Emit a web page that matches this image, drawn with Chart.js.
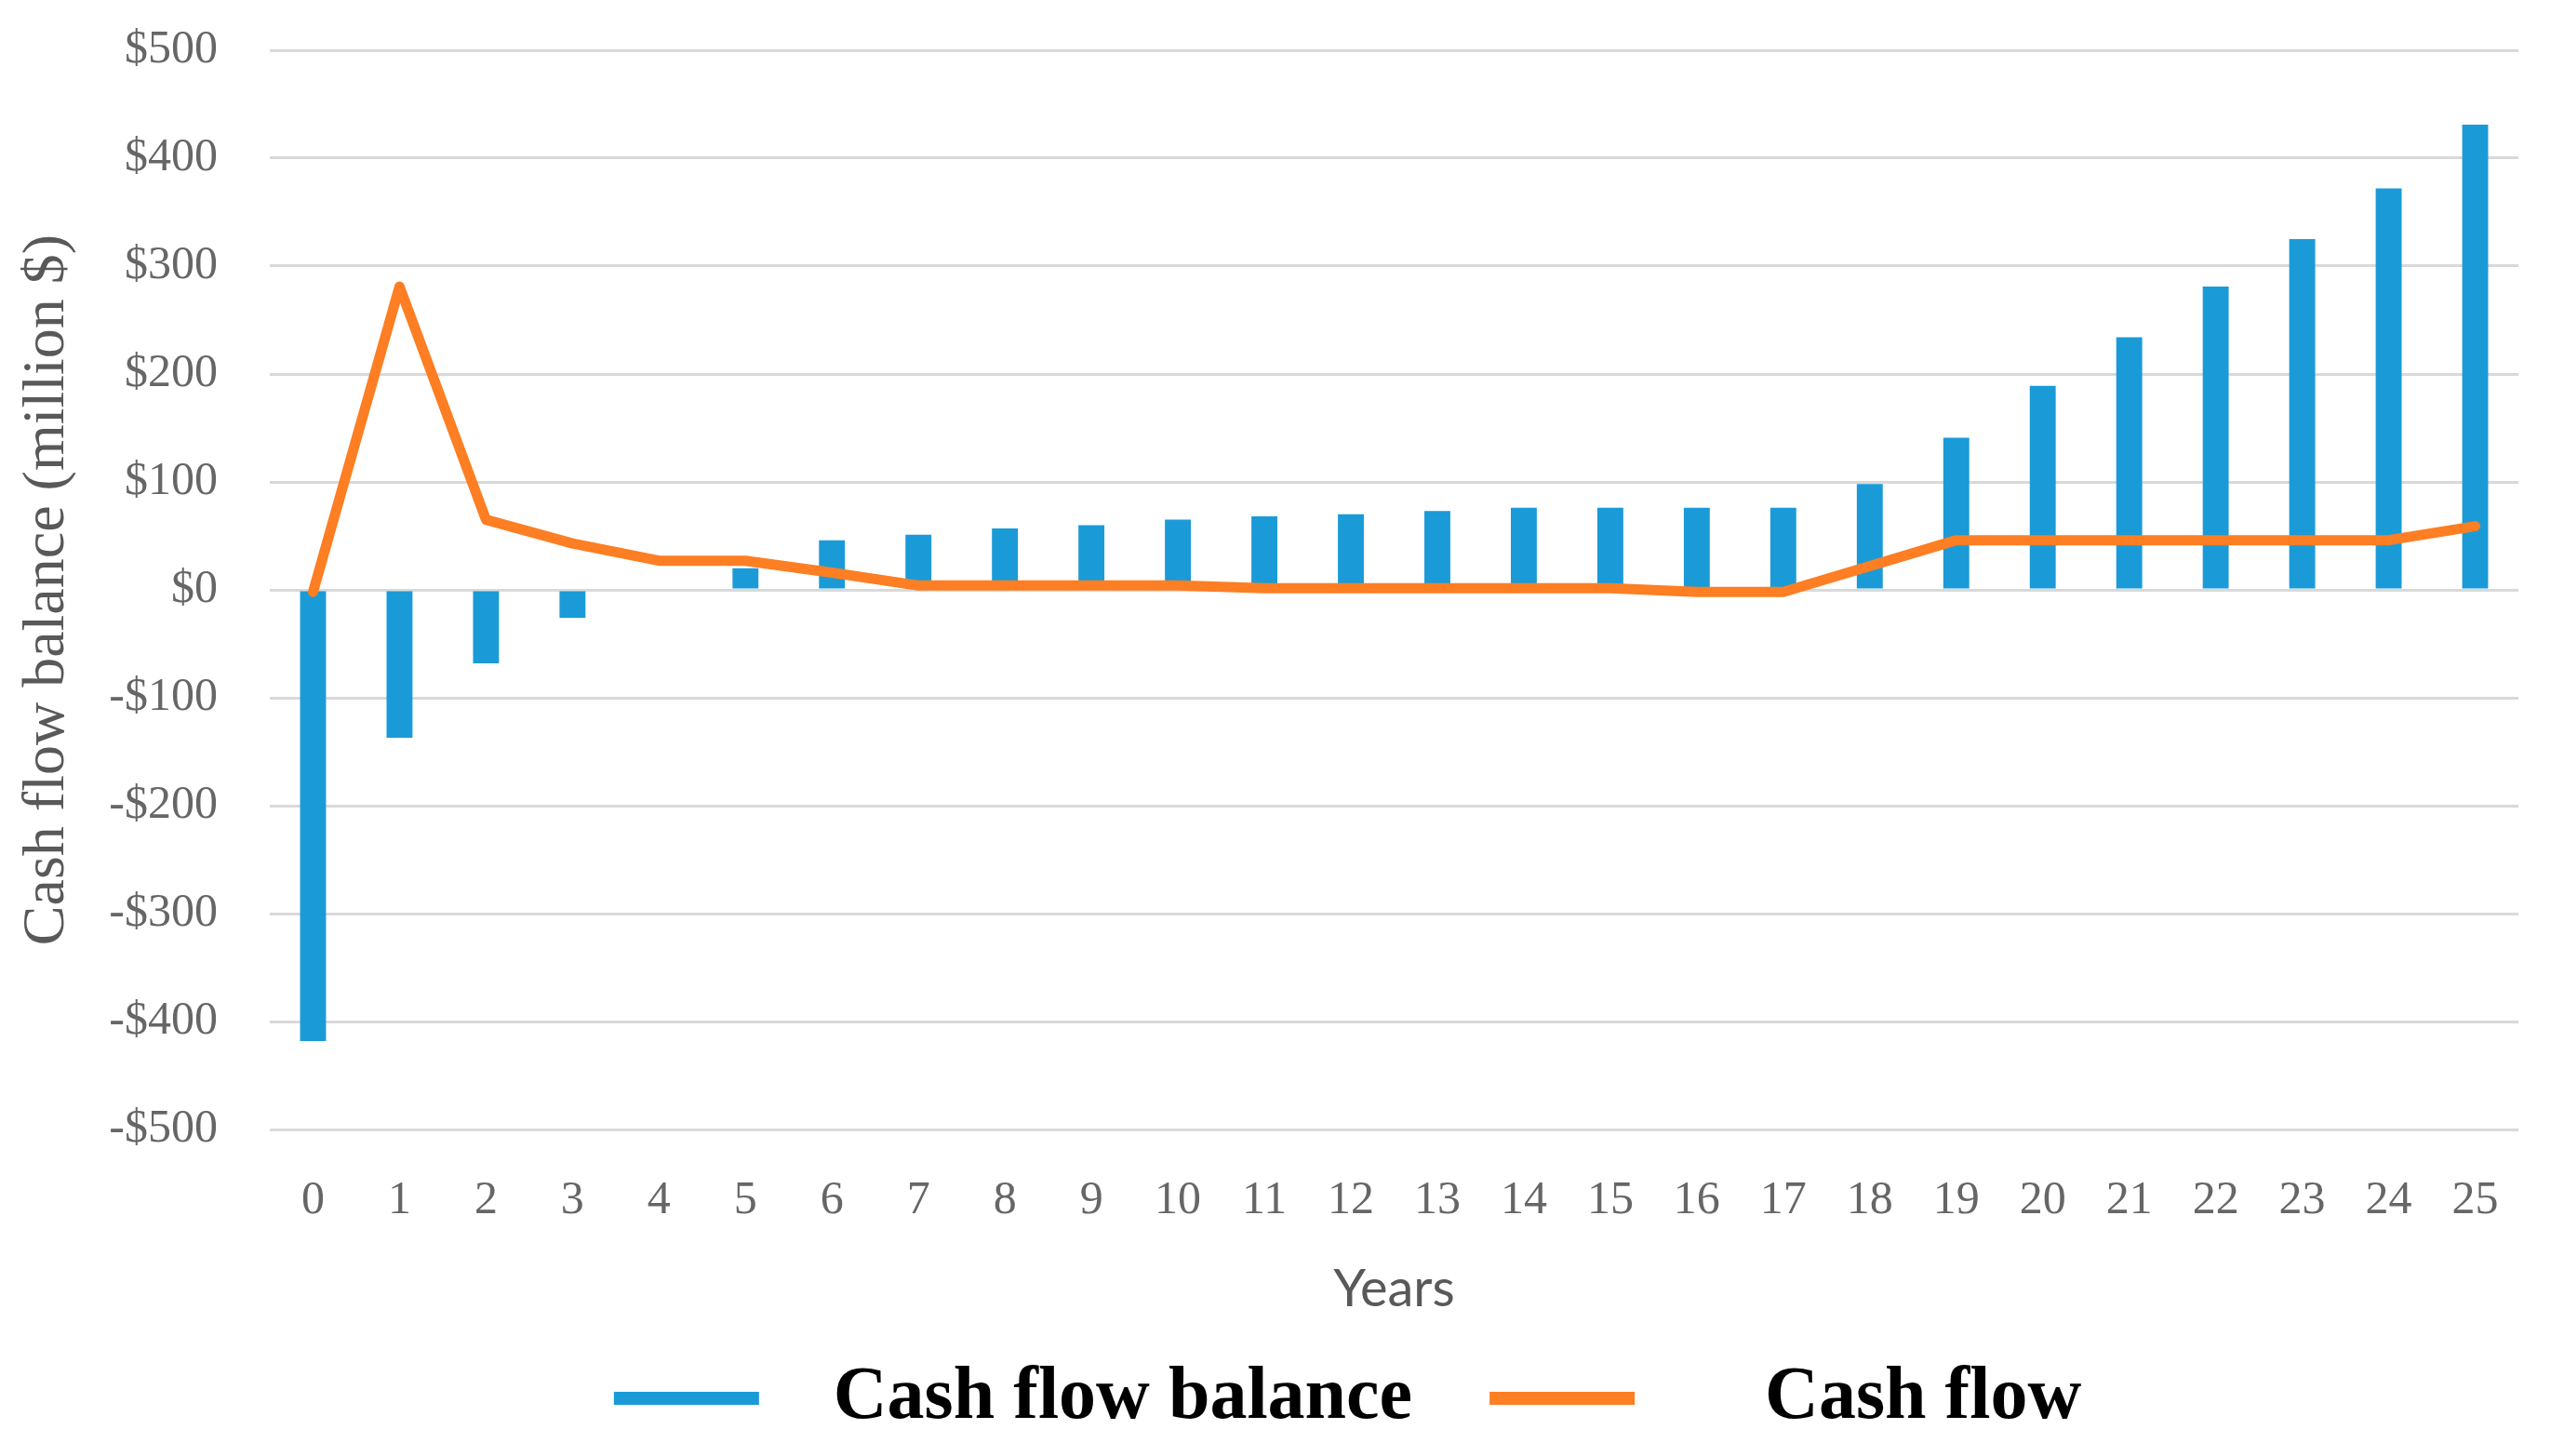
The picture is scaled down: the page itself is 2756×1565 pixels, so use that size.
<!DOCTYPE html>
<html>
<head>
<meta charset="utf-8">
<script src="https://cdn.jsdelivr.net/npm/chart.js@4.4.1/dist/chart.umd.min.js"></script>
<style>
  html, body { margin: 0; padding: 0; background: #fff; }
  #wrap { width: 2756px; height: 1565px; }
</style>
</head>
<body>
<div id="wrap"><canvas id="cashChart"></canvas></div>
<script>
const years = ['0', '1', '2', '3', '4', '5', '6', '7', '8', '9', '10', '11', '12',
  '13', '14', '15', '16', '17', '18', '19', '20', '21', '22', '23', '24', '25'];
const balanceData = [-418, -137, -68, -26, 0, 20, 46, 51, 57, 60, 65, 68, 70,
  73, 76, 76, 76, 76, 98, 141, 189, 234, 281, 325, 372, 431];
const cashFlowData = [-2, 281, 65, 43, 27, 27, 16, 4, 4, 4, 4, 1.5, 1.5,
  1.5, 1.5, 1.5, -2, -2, 22, 46, 46, 46, 46, 46, 46, 59];
const yTicks = [-500, -400, -300, -200, -100, 0, 100, 200, 300, 400, 500];

const blue = '#1a9bd7';
const orange = '#fd7e23';
const gray = '#666666';

// spacing in the legend text, the reference has wide gaps
const legendPad = [[2, 2], [5, 5]];

const ctx = document.getElementById('cashChart').getContext('2d');
const chart = new Chart(ctx, {
    type: 'bar',
    data: {
        labels: years,
        datasets: [
            {
                label: 'Cash flow balance',
                data: balanceData,
                backgroundColor: blue,
                borderWidth: 0,
                barPercentage: 0.3,
                categoryPercentage: 1.0,
                order: 1
            },
            {
                type: 'line',
                label: 'Cash flow',
                data: cashFlowData,
                borderColor: orange,
                backgroundColor: orange,
                borderWidth: 11,
                pointRadius: 0,
                tension: 0,
                borderJoinStyle: 'round',
                borderCapStyle: 'round',
                order: 0
            }
        ]
    },
    options: {
        responsive: true,
        maintainAspectRatio: false,
        devicePixelRatio: 1,
        animation: false,
        layout: {
            padding: { top: 54, left: 0, right: 49, bottom: 12 }
        },
        plugins: {
            tooltip: { enabled: false },
            legend: {
                position: 'bottom',
                fullSize: false,
                labels: {
                    boxWidth: 156,
                    boxHeight: 14,
                    padding: 43,
                    color: '#000',
                    font: { family: 'Liberation Serif', size: 80, weight: 'bold' },
                    generateLabels: (c) => {
                        const items = Chart.defaults.plugins.legend.labels.generateLabels(c);
                        items.sort((a, b) => a.datasetIndex - b.datasetIndex);
                        return items.map(it => {
                            const ds = c.data.datasets[it.datasetIndex];
                            const p = legendPad[it.datasetIndex];
                            return Object.assign({}, it, {
                                text: ' '.repeat(p[0]) + ds.label + ' '.repeat(p[1]),
                                fillStyle: ds.backgroundColor,
                                strokeStyle: ds.backgroundColor,
                                lineWidth: 0
                            });
                        });
                    }
                }
            }
        },
        scales: {
            x: {
                grid: { display: false, drawTicks: false },
                border: { display: false },
                ticks: {
                    color: gray,
                    padding: 47,
                    maxRotation: 0,
                    font: { family: 'Liberation Serif', size: 50 }
                },
                title: {
                    display: true,
                    text: 'Years',
                    color: '#595959',
                    padding: { top: 0, bottom: 0 },
                    font: { family: 'Lato', size: 56 }
                },
                afterFit: (scale) => { scale.height = 206; }
            },
            y: {
                min: -500,
                max: 500,
                afterBuildTicks: (scale) => { scale.ticks = yTicks.map(v => ({ value: v })); },
                // invisible tick marks push the labels away from the plot
                grid: { color: '#d9d9d9', lineWidth: 3, drawTicks: true, tickLength: 56, tickColor: 'rgba(0,0,0,0)' },
                border: { display: false },
                ticks: {
                    color: gray,
                    padding: 0,
                    font: { family: 'Liberation Serif', size: 50 },
                    callback: (v) => (v < 0 ? '-$' + Math.abs(v) : '$' + v)
                },
                title: {
                    display: true,
                    text: 'Cash flow balance (million $)',
                    color: '#595959',
                    padding: { top: 13, bottom: 0 },
                    font: { family: 'Liberation Serif', size: 64 }
                },
                afterFit: (scale) => { scale.width = 290; }
            }
        }
    }
});
</script>
</body>
</html>
